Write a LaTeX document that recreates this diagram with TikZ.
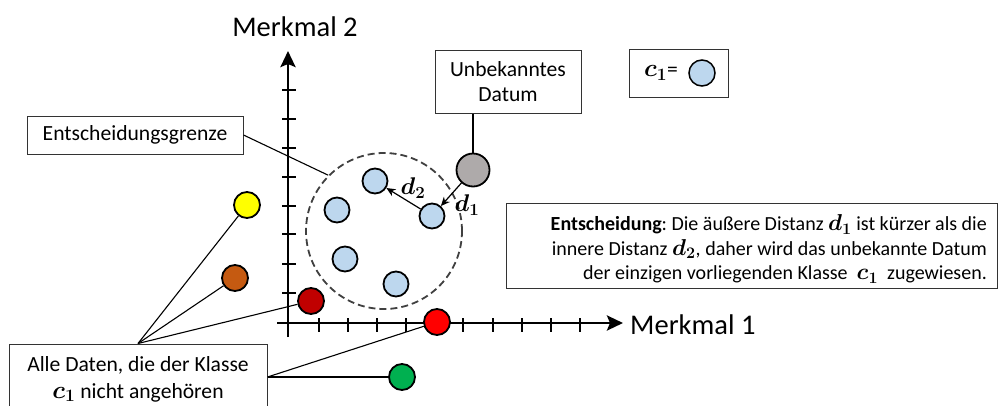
\RequirePackage{fix-cm}
\documentclass[tikz,border=0pt]{standalone}
\usepackage{amsmath}
\usepackage{bm}
\usepackage{graphicx}
\usepackage{fontspec}
\setmainfont{Carlito}
\usetikzlibrary{arrows.meta,calc}
\definecolor{cblue}{HTML}{BDD7EE}
\definecolor{cgrey}{HTML}{AEAAAA}
\definecolor{cyellow}{HTML}{FFFF00}
\definecolor{cbrown}{HTML}{C55A11}
\definecolor{cdred}{HTML}{C00000}
\definecolor{cred}{HTML}{FF0000}
\definecolor{cgreen}{HTML}{00B050}
\definecolor{cdash}{HTML}{404040}
\newcommand{\mbf}[2]{\scalebox{1.15}{$\bm{#1}_{\bm{#2}}$}}
\tikzset{
  dot/.style={circle,draw=black,line width=1.8pt,minimum size=#1,inner sep=0pt},
  dot/.default=25pt,
  box/.style={draw=black!80,line width=1pt,fill=white,inner sep=0pt},
  btext/.style={inner sep=0pt,align=center,font=\fontsize{21.6}{25}\selectfont},
  conn/.style={draw=black,line width=1.1pt},
  axis/.style={line width=2.8pt,-{Stealth[length=16pt,width=15pt,inset=3pt]}},
  tick/.style={line width=2.6pt},
  axlabel/.style={font=\fontsize{28.5}{32}\selectfont,inner sep=0pt},
  dist/.style={line width=1.2pt,-{Stealth[length=9pt,width=8pt]}},
  dlabel/.style={font=\fontsize{21}{24}\selectfont,inner sep=0pt}
}
\begin{document}
\frenchspacing
\begin{tikzpicture}[x=1pt,y=-1pt]
\useasboundingbox (0,0) rectangle (999,405);
\clip (0,0) rectangle (999,405);
% axes
\coordinate (yb) at (288,337);
\coordinate (yt) at (288,51);
\coordinate (xl) at (277,323);
\coordinate (xr) at (623,323);
\foreach \y in {90,119,148,177,206,234,264,293}
  \draw[tick] (282,\y) -- (296,\y);
\foreach \x in {319,348,377,406,435,463,493,522,551,580}
  \draw[tick] (\x,318) -- (\x,332);
\draw[axis] (yb) -- (yt);
\draw[axis] (xl) -- (xr);
\node[axlabel] (m2) at (295,27) {Merkmal 2};
\node[axlabel,anchor=west] (m1) at (630,325) {Merkmal 1};
% decision boundary
\node[circle,draw=cdash,dashed,dash pattern=on 7pt off 4pt,line width=1.8pt,minimum size=156pt,inner sep=0pt] (grenze) at (384,231) {};
% class points
\node[dot,fill=cblue] (b1) at (375,181) {};
\node[dot,fill=cblue] (b2) at (337,210) {};
\node[dot,fill=cblue] (b3) at (432,216) {};
\node[dot,fill=cblue] (b4) at (345,259) {};
\node[dot,fill=cblue] (b5) at (396,284) {};
% unknown
\node[dot=33pt,fill=cgrey] (unk) at (473,170) {};
% other points
\node[dot=26pt,fill=cyellow] (py) at (247,205) {};
\node[dot=26pt,fill=cbrown] (pb) at (235,278) {};
\node[dot=26pt,fill=cdred] (pd) at (311,301) {};
\node[dot=26pt,fill=cred] (pr) at (437,322) {};
\node[dot=26pt,fill=cgreen] (pg) at (402,377) {};
% distances
\draw[dist] (b3) -- (b1);
\draw[dist] (unk) -- (b3);
\node[dlabel] (d2) at (413,188) {$\mbf{d}{2}$};
\node[dlabel] (d1) at (467,205) {$\mbf{d}{1}$};
% boxes
\node[box,minimum width=146pt,minimum height=63pt] (unbox) at (508,81.5) {};
\node[btext] (untext) at (508,82) {Unbekanntes\\Datum};
\node[box,minimum width=99pt,minimum height=48pt] (cbox) at (678.5,73) {};
\node[btext] (ctext) at (661,73) {$\mbf{c}{1}$=};
\node[dot=26pt,fill=cblue,line width=1.5pt] (cdot) at (702,73) {};
\node[box,minimum width=216pt,minimum height=38pt] (gbox) at (135,135) {};
\node[btext] (gtext) at (135,135) {Entscheidungsgrenze};
\node[box,minimum width=491pt,minimum height=85pt] (ebox) at (751.5,245.5) {};
\node[inner sep=0pt,align=right,anchor=east,font=\fontsize{20}{24.5}\selectfont] (etext) at (987,249)
  {\textbf{Entscheidung}: Die äußere Distanz $\mbf{d}{1}$ ist kürzer als die\\
   innere Distanz $\mbf{d}{2}$, daher wird das unbekannte Datum\\
   der einzigen vorliegenden Klasse \ $\mbf{c}{1}$ \ zugewiesen.};
\node[box,minimum width=258pt,minimum height=66pt] (abox) at (138,377) {};
\node[btext,font=\fontsize{21.6}{27}\selectfont] (atext) at (138,379)
  {Alle Daten, die der Klasse\\$\mbf{c}{1}$ nicht angehören};
% connectors
\draw[conn] (unk |- unbox.south) -- (unk.north);
\draw[conn] (gbox.east) -- (grenze.135);
\draw[conn] (abox.north) -- (py);
\draw[conn] (abox.north) -- (pb);
\draw[conn] (abox.north) -- (pd);
\draw[conn] (abox.east) -- (pr);
\draw[conn] (abox.east) -- (pg);
\end{tikzpicture}
\end{document}
